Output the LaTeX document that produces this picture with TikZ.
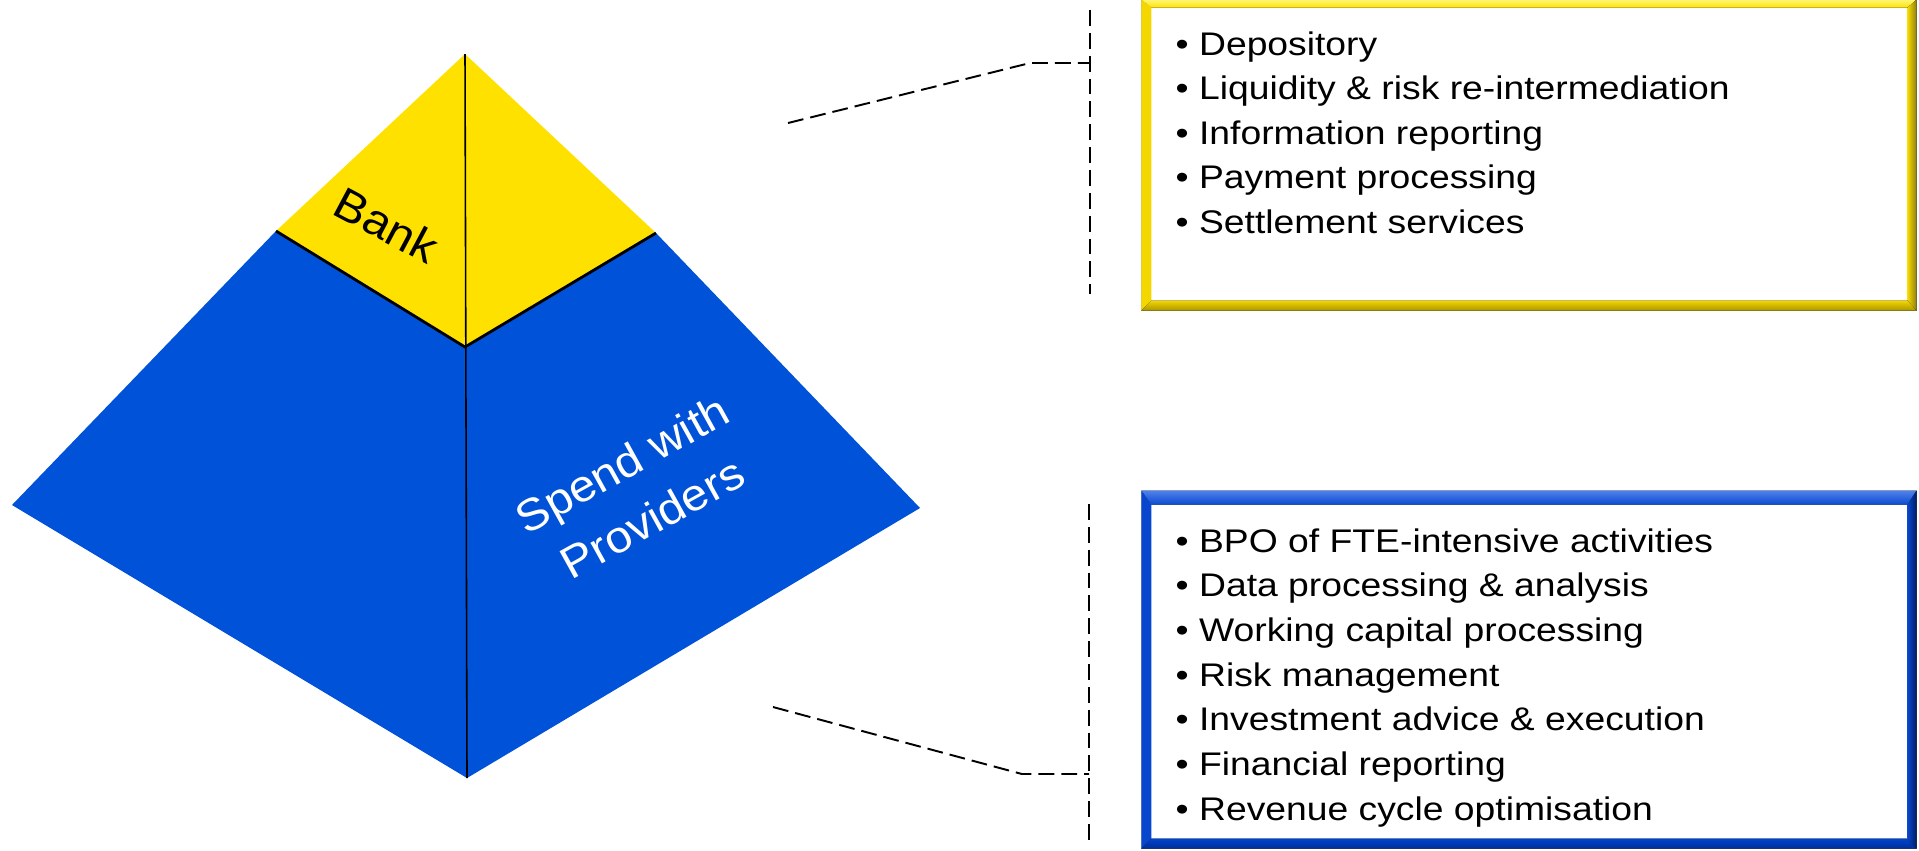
\documentclass[tikz,border=0pt]{standalone}
\usepackage{fontspec}
\setmainfont{Liberation Sans}
\newfontfamily\listfont{Liberation Sans}[FakeStretch=1.14]
\newfontfamily\tierfont{Liberation Sans}[FakeStretch=1.07]
\usetikzlibrary{positioning,calc}

\definecolor{pyryellow}{RGB}{255,225,0}
\definecolor{pyrblue}{RGB}{0,82,216}
% bevel colours of the two list frames
\definecolor{ybevhi}{RGB}{255,245,120}
\definecolor{ybevtop}{RGB}{255,228,0}
\definecolor{ybevleft}{RGB}{245,215,0}
\definecolor{ybevbot}{RGB}{245,215,0}
\definecolor{ybevlo}{RGB}{170,150,0}
\definecolor{ybevright}{RGB}{140,125,20}
\definecolor{bbevhi}{RGB}{80,130,235}
\definecolor{bbevtop}{RGB}{10,75,210}
\definecolor{bbevleft}{RGB}{8,70,205}
\definecolor{bbevbot}{RGB}{0,68,205}
\definecolor{bbevlo}{RGB}{0,45,150}
\definecolor{bbevright}{RGB}{0,28,95}

\tikzset{
  % dashed leader lines and brackets
  leader/.style={dash pattern=on 4.5pt off 2pt, line width=0.55pt},
  ridge/.style={line width=0.8pt},
  item/.style={anchor=base west, inner sep=0pt, font=\listfont\fontsize{9.3}{12.7}\selectfont},
  listbox/.style={draw=gray!55, line width=0.8pt, fill=white, minimum width=7.72cm}}

% bevelled frame round a list box: node, colour prefix, top thickness
\newcommand{\bevelframe}[3]{%
  \fill[top color=#2hi, bottom color=#2top] (#1.north west) -- (#1.north east) -- ([shift={(-9,#3)}]#1.north east) -- ([shift={(10,#3)}]#1.north west) -- cycle;
  \fill[#2left] (#1.north west) -- ([shift={(10,#3)}]#1.north west) -- ([shift={(10,-10)}]#1.south west) -- (#1.south west) -- cycle;
  \fill[top color=#2bot, bottom color=#2lo] (#1.south west) -- ([shift={(10,-10)}]#1.south west) -- ([shift={(-9,-10)}]#1.south east) -- (#1.south east) -- cycle;
  \fill[left color=#2left, right color=#2right] (#1.north east) -- ([shift={(-9,#3)}]#1.north east) -- ([shift={(-9,-10)}]#1.south east) -- (#1.south east) -- cycle;
}

\begin{document}
\begin{tikzpicture}[x=0.01cm, y=-0.01cm]
\useasboundingbox (0,0) rectangle (1919,850);

% pyramid
\path (465,54) coordinate (apex) (276,231) coordinate (bl) (656,233) coordinate (br)
      (465,347) coordinate (mid) (12,505) coordinate (lc) (920,508) coordinate (rc)
      (467,778) coordinate (base);
\fill[pyrblue] (lc) -- (bl) -- (mid) -- (br) -- (rc) -- (base) -- cycle;
\fill[pyryellow] (apex) -- (bl) -- (mid) -- (br) -- cycle;
\draw[ridge] (bl) -- (mid) -- (br);
\draw[line width=0.45pt] (apex) -- (base);

\node (bank) [rotate=-28, font=\tierfont\fontsize{12.8}{15}\selectfont] at (387,225) {Bank};
\node (spend) [rotate=29, text=white, align=center, font=\tierfont\fontsize{12.7}{17.6}\selectfont] at (637,491) {Spend with\\Providers};

% list boxes
\node (bankbox) [listbox, minimum height=3.08cm] at (1529,155) {};
\bevelframe{bankbox}{ybev}{8}
\node (provbox) [listbox, minimum height=3.55cm] at (1529,669.5) {};
\bevelframe{provbox}{bbev}{14}

\foreach \txt [count=\i] in {Depository, Liquidity \& risk re-intermediation,
    Information reporting, Payment processing, Settlement services}
  \node (bk\i) [item] at (1175,{55+44.5*(\i-1)}) {\textbullet\ \txt};

\foreach \txt [count=\i] in {BPO of FTE-intensive activities, Data processing \& analysis,
    Working capital processing, Risk management, Investment advice \& execution,
    Financial reporting, Revenue cycle optimisation}
  \node (pv\i) [item] at (1175,{552+44.7*(\i-1)}) {\textbullet\ \txt};

% leaders from the pyramid
\path (788,123) coordinate (u1) (1030,63) coordinate (u2) (1090,63) coordinate (u3)
      (1090,10) coordinate (ut) (1090,294) coordinate (ub);
\draw[leader] (u1) -- (u2) -- (u3);
\draw[leader] (ut) -- (ub);

\path (773,707) coordinate (l1) (1022,774) coordinate (l2) (1089,774) coordinate (l3)
      (1089,504) coordinate (lt) (1089,840) coordinate (lb);
\draw[leader] (l1) -- (l2) -- (l3);
\draw[leader] (lt) -- (lb);

\end{tikzpicture}
\end{document}
